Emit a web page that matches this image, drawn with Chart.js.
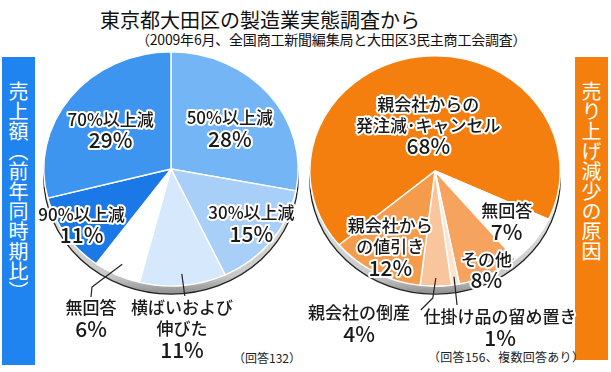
<!DOCTYPE html>
<html>
<head>
<meta charset="utf-8">
<script src="https://cdn.jsdelivr.net/npm/chart.js@4.4.0/dist/chart.umd.min.js"></script>
<style>
  body { margin: 0; width: 611px; height: 372px; background: #fff; position: relative; overflow: hidden;
         font-family: "Noto Sans CJK JP", sans-serif; }
  canvas { position: absolute; left: 0; top: 0; }
  .title { position: absolute; left: 0; width: 520px; top: 6px; text-align: center; font-size: 20px; color: #111; line-height: 28px; }
  .sub { position: absolute; left: 136px; top: 30px; font-size: 14px; color: #111; line-height: 18px; letter-spacing: -0.2px; }
  .side { position: absolute; width: 33px; color: #fff; writing-mode: vertical-rl; font-size: 20px; line-height: 33px;
          box-sizing: border-box; padding-top: 24px; }
  .note { position: absolute; font-size: 12px; color: #222; }
</style>
</head>
<body>
<div class="title">東京都大田区の製造業実態調査から</div>
<div class="sub">（2009年6月、全国商工新聞編集局と大田区3民主商工会調査）</div>
<div class="side" style="left:2px;top:57px;height:308px;background:#1f84f0;">売上額（前年同時期比）</div>
<div class="side" style="left:575px;top:57px;height:303px;background:#f57f0c;">売り上げ減少の原因</div>
<div class="note" style="left:233px;top:349px;">（回答132）</div>
<div class="note" style="left:428px;top:348px;letter-spacing:0.3px;">（回答156、複数回答あり）</div>
<canvas id="c1" width="611" height="372"></canvas>
<canvas id="c2" width="611" height="372"></canvas>
<script>
// 売上額（前年同時期比）
const uriageLabels = ['50%以上減', '30%以上減', '横ばいおよび伸びた', '無回答', '90%以上減', '70%以上減'];
const uriageValues = [28, 15, 11, 6, 11, 29];
// 売り上げ減少の原因
const genninLabels = ['親会社からの発注減・キャンセル', '無回答', 'その他', '仕掛け品の留め置き', '親会社の倒産', '親会社からの値引き'];
const genninValues = [68, 7, 8, 1, 4, 12];

const uriageColors = ['#74b5f6', '#a8cff8', '#d6e8fb', '#ffffff', '#1a79e6', '#3d95ef'];
const genninColors = ['#f57f0e', '#ffffff', '#f6a35f', '#fde2cc', '#f8c59c', '#f59b4c'];

// label layout: lines, radial fraction, optional outside spot + leader style
const uriageText = [
  { lines: ['50%以上減'], frac: 0.6, dy: 4 },
  { lines: ['30%以上減'], frac: 0.8, dy: -3 },
  { lines: ['横ばいおよび', '伸びた'], frac: 0.9, out: [11, 139], leader: 'v' },
  { lines: ['無回答'], frac: 0.9, out: [-80, 139], leader: 'k' },
  { lines: ['90%以上減'], frac: 0.85 },
  { lines: ['70%以上減'], frac: 0.6, dy: 4 }
];
const genninText = [
  { lines: ['親会社からの', '発注減･キャンセル'], frac: 0.4 },
  { lines: ['無回答'], frac: 0.72 },
  { lines: ['その他'], frac: 0.95 },
  { lines: ['仕掛け品の留め置き'], frac: 0.93, out: [65, 146], leader: 'v' },
  { lines: ['親会社の倒産'], frac: 0.93, out: [-76, 142], leader: 'j' },
  { lines: ['親会社から', 'の値引き'], frac: 0.75 }
];

function pieLook(k, texts, values) {
  return {
    id: 'pieLook',
    beforeDatasetsDraw(chart) {
      const arc = chart.getDatasetMeta(0).data[0];
      const cx = arc.x, cy = arc.y, r = arc.outerRadius;
      const ctx = chart.ctx;
      ctx.save();
      ctx.translate(cx, cy); ctx.scale(1, k); ctx.translate(-cx, -cy);
      // rim of the tilted disc
      const g = ctx.createLinearGradient(0, cy, 0, cy + r + 9 / k);
      g.addColorStop(0, '#f0f0f0'); g.addColorStop(0.85, '#c8c8c8'); g.addColorStop(1, '#8a8a8a');
      ctx.beginPath();
      ctx.arc(cx, cy + 8 / k, r, 0, Math.PI * 2);
      ctx.fillStyle = g; ctx.fill();
      ctx.lineWidth = 1.3; ctx.strokeStyle = '#222'; ctx.stroke();
    },
    afterDatasetsDraw(chart) {
      const ctx = chart.ctx;
      ctx.restore();
      const meta = chart.getDatasetMeta(0);
      const total = values.reduce((a, b) => a + b, 0);
      const lh = 21;
      ctx.save();
      ctx.textAlign = 'center'; ctx.textBaseline = 'middle';
      ctx.lineJoin = 'round';
      meta.data.forEach((a, i) => {
        const t = texts[i];
        const mid = (a.startAngle + a.endAngle) / 2;
        const px = a.x + Math.cos(mid) * a.outerRadius * t.frac;
        const py = a.y + Math.sin(mid) * a.outerRadius * t.frac * k;
        const pct = Math.round(values[i] / total * 100) + '%';
        const rows = t.lines.concat([pct]);
        let lx, y0;
        if (t.out) {
          lx = a.x + t.out[0];
          y0 = a.y + t.out[1];
          ctx.beginPath();
          ctx.strokeStyle = '#222'; ctx.lineWidth = 1.2;
          ctx.moveTo(px, py);
          if (t.leader === 'k') {
            ctx.lineTo(lx + 1, y0 - 21);
            ctx.lineTo(lx, y0 - 11);
          } else if (t.leader === 'j') {
            ctx.lineTo(px - 3, y0 - 15);
            ctx.lineTo(px - 15, y0 - 3);
          } else {
            ctx.lineTo(px + 3, y0 - 12);
          }
          ctx.stroke();
        } else {
          lx = px;
          y0 = py - (rows.length - 1) * lh / 2 + (t.dy || 0);
        }
        rows.forEach((s, j) => {
          const isPct = j === rows.length - 1;
          ctx.font = (isPct ? '500 21px' : '500 17px') + ' "Noto Sans CJK JP", sans-serif';
          const y = y0 + j * lh;
          ctx.strokeStyle = '#fff'; ctx.lineWidth = 4;
          ctx.strokeText(s, lx, y);
          ctx.fillStyle = '#1a1a1a';
          ctx.fillText(s, lx, y);
        });
      });
      ctx.restore();
    }
  };
}

function makePie(id, labels, values, colors, rotation, pad, k, texts) {
  return new Chart(document.getElementById(id), {
    type: 'pie',
    data: {
      labels: labels,
      datasets: [{
        data: values,
        backgroundColor: colors,
        borderColor: '#fff',
        borderWidth: 1.5
      }]
    },
    options: {
      responsive: false,
      animation: false,
      rotation: rotation,
      layout: { padding: pad },
      plugins: { legend: { display: false }, tooltip: { enabled: false } }
    },
    plugins: [pieLook(k, texts, values)]
  });
}

// center (171,169) r 127 / center (435,171) r 125
makePie('c1', uriageLabels, uriageValues, uriageColors, 0,
  { left: 43, right: 312, top: 41, bottom: 75 }, 0.92, uriageText);
makePie('c2', genninLabels, genninValues, genninColors, 230,
  { left: 309, right: 50, top: 45, bottom: 75 }, 0.92, genninText);
</script>
</body>
</html>
